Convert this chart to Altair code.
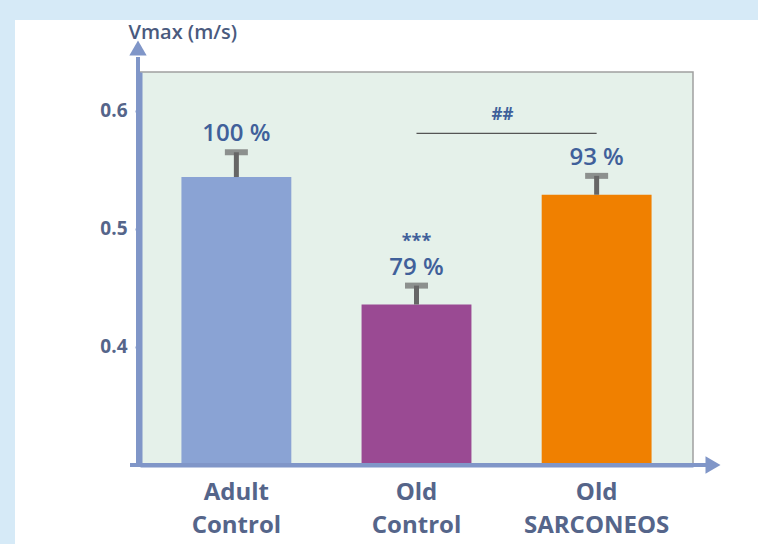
import altair as alt
import pandas as pd

groups = ["Adult Control", "Old Control", "Old SARCONEOS"]
means = [0.544, 0.436, 0.529]
errors = [0.021, 0.016, 0.016]
pct_labels = ["100 %", "79 %", "93 %"]
stars = ["", "***", ""]
colors = ["#8aa3d4", "#9a4a93", "#f08000"]
y_ticks = [0.4, 0.5, 0.6]
sig_pair = ["Old Control", "Old SARCONEOS"]
sig_level = 0.581
sig_text = "##"

df = pd.DataFrame({
    "group": groups,
    "mean": means,
    "top": [m + e for m, e in zip(means, errors)],
    "pct": pct_labels,
    "stars": stars,
})
sig_df = pd.DataFrame({"group": sig_pair, "y": [sig_level, sig_level]})

W, H = 553, 393
YMIN, YMAX = 0.3, 0.633
AXIS_COL = "#8096c8"
LABEL_COL = "#55658a"
TEXT_COL = "#40609a"
FONT = "Open Sans"

x_scale = alt.Scale(domain=groups, paddingInner=0.39, paddingOuter=0.23)
y_scale = alt.Scale(domain=[YMIN, YMAX], nice=False, zero=False)

x_enc = alt.X("group:N", scale=x_scale, sort=groups,
              axis=alt.Axis(title=None, labelExpr="split(datum.label, ' ')",
                            labelAngle=0, labelFontSize=24, labelFontWeight="bold",
                            labelColor=LABEL_COL, labelFont=FONT, labelPadding=15,
                            labelLineHeight=33, ticks=False, domainColor=AXIS_COL,
                            domainWidth=4, zindex=2))
y_axis = alt.Axis(values=y_ticks, format=".1f", grid=False, labelFontSize=19,
                  labelFontWeight="bold", labelColor=LABEL_COL, labelFont=FONT,
                  labelPadding=8, tickColor=AXIS_COL, tickSize=5, tickWidth=2,
                  domainColor=AXIS_COL, domainWidth=4, zindex=2,
                  title="Vmax (m/s)", titleAngle=0, titleAlign="left",
                  titleBaseline="middle", titleX=-12, titleY=-40, titleFontSize=20,
                  titleFontWeight=600, titleColor="#4a5a7e", titleFont=FONT)

# decorative card + plot panel
card = alt.Chart(pd.DataFrame({"a": [0]})).mark_rect(color="white").encode(
    x=alt.value(-125), x2=alt.value(618), y=alt.value(-52), y2=alt.value(472))
panel = alt.Chart(pd.DataFrame({"a": [0]})).mark_rect(
    fill="#e5f1ea", stroke="#a0a0a0", strokeWidth=1.5).encode(
    x=alt.value(0), x2=alt.value(W), y=alt.value(0), y2=alt.value(H))

bars = alt.Chart(df).mark_bar().encode(
    x=x_enc,
    y=alt.Y("mean:Q", scale=y_scale, axis=y_axis),
    y2=alt.datum(YMIN),
    color=alt.Color("group:N", scale=alt.Scale(domain=groups, range=colors), legend=None),
)
stem = alt.Chart(df).mark_rule(color="#666666", strokeWidth=5).encode(
    x=alt.X("group:N", scale=x_scale, sort=groups), y="mean:Q", y2="top:Q")
cap = alt.Chart(df).mark_tick(color="#666666", orient="horizontal", size=23, thickness=6).encode(
    x=alt.X("group:N", scale=x_scale, sort=groups), y="top:Q")
pct = alt.Chart(df).mark_text(fontSize=24, fontWeight=600, color=TEXT_COL, font=FONT, dy=-18,
                              baseline="middle").encode(
    x=alt.X("group:N", scale=x_scale, sort=groups), y="top:Q", text="pct:N")
star = alt.Chart(df).mark_text(fontSize=18, fontWeight="bold", color=TEXT_COL, font=FONT,
                               dy=-44, baseline="middle").encode(
    x=alt.X("group:N", scale=x_scale, sort=groups), y="top:Q", text="stars:N")
sig_line = alt.Chart(sig_df).mark_line(color="#555555", strokeWidth=1.3).encode(
    x=alt.X("group:N", scale=x_scale, sort=groups), y="y:Q")
sig_lbl = alt.Chart(sig_df.iloc[[0]]).mark_text(fontSize=17, fontWeight="bold", color=TEXT_COL,
                                                font=FONT, dx=86, dy=-18, baseline="middle").encode(
    x=alt.X("group:N", scale=x_scale, sort=groups), y="y:Q", text=alt.value(sig_text))

# axis arrow heads and extensions
y_ext = alt.Chart(pd.DataFrame({"a": [0]})).mark_rule(color=AXIS_COL, strokeWidth=4).encode(
    x=alt.value(-2), y=alt.value(-15), y2=alt.value(H))
y_arrow = alt.Chart(pd.DataFrame({"a": [0]})).mark_point(
    shape="triangle-up", filled=True, color=AXIS_COL, opacity=1, size=300).encode(
    x=alt.value(-2), y=alt.value(-24))
x_ext = alt.Chart(pd.DataFrame({"a": [0]})).mark_rule(color=AXIS_COL, strokeWidth=4).encode(
    x=alt.value(-10), x2=alt.value(W + 15), y=alt.value(H))
x_arrow = alt.Chart(pd.DataFrame({"a": [0]})).mark_point(
    shape="triangle-right", filled=True, color=AXIS_COL, opacity=1, size=300).encode(
    x=alt.value(W + 20), y=alt.value(H))

chart = alt.layer(card, panel, bars, stem, cap, pct, star, sig_line, sig_lbl,
                  y_ext, y_arrow, x_ext, x_arrow).properties(
    width=W, height=H,
    autosize=alt.AutoSizeParams(type="none"),
    padding={"left": 140, "top": 72, "right": 65, "bottom": 79},
    background="#d6eaf7",
).configure_view(stroke=None)

chart.save("out.html", embed_options={"renderer": "svg", "actions": False})
